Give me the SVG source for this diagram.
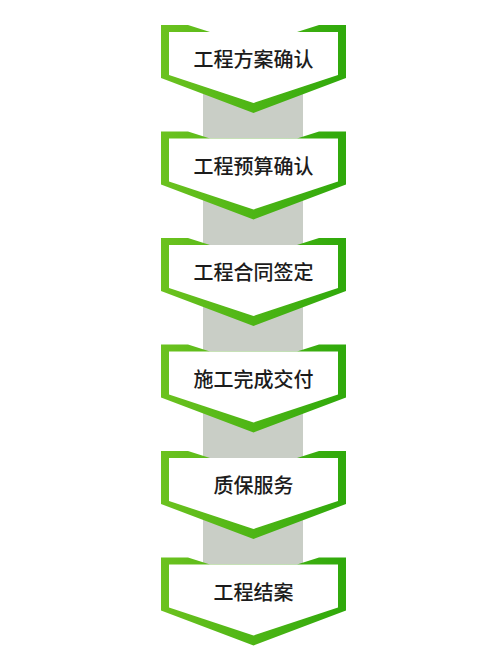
<svg xmlns="http://www.w3.org/2000/svg" xmlns:xlink="http://www.w3.org/1999/xlink" width="500" height="672" viewBox="0 0 500 672">
  <defs>
    <linearGradient id="green" gradientUnits="userSpaceOnUse" x1="161" y1="0" x2="346" y2="0">
      <stop offset="0" stop-color="#6cc21f"/>
      <stop offset="1" stop-color="#2fa90b"/>
    </linearGradient>
    <g id="chev">
      <polygon points="161,0 188,0 210,7 297,7 319,0 346,0 346,53 253.5,88 161,53" fill="url(#green)"/>
      <polygon points="169,7 338,7 338,50 253.5,78 169,50" fill="#ffffff"/>
    </g>
  </defs>
  <style>
    .conn { fill: #c9cec6; }
    .label { font-family: "Noto Sans CJK SC", "Noto Sans", sans-serif; font-size: 20px; font-weight: 500; fill: #1c1c1c; text-anchor: middle; }
  </style>
  <rect width="500" height="672" fill="#ffffff"/>
  <g id="connectors">
    <rect class="conn" x="203" y="85" width="100" height="60"/>
    <rect class="conn" x="203" y="191.5" width="100" height="60"/>
    <rect class="conn" x="203" y="298" width="100" height="60"/>
    <rect class="conn" x="203" y="404.5" width="100" height="60"/>
    <rect class="conn" x="203" y="511" width="100" height="60"/>
  </g>
  <g id="node1">
    <use xlink:href="#chev" href="#chev" transform="translate(0,25)"/>
    <text class="label" x="253.5" y="67">工程方案确认</text>
  </g>
  <g id="node2">
    <use xlink:href="#chev" href="#chev" transform="translate(0,131.5)"/>
    <text class="label" x="253.5" y="173.5">工程预算确认</text>
  </g>
  <g id="node3">
    <use xlink:href="#chev" href="#chev" transform="translate(0,238)"/>
    <text class="label" x="253.5" y="280">工程合同签定</text>
  </g>
  <g id="node4">
    <use xlink:href="#chev" href="#chev" transform="translate(0,344.5)"/>
    <text class="label" x="253.5" y="386.5">施工完成交付</text>
  </g>
  <g id="node5">
    <use xlink:href="#chev" href="#chev" transform="translate(0,451)"/>
    <text class="label" x="253.5" y="493">质保服务</text>
  </g>
  <g id="node6">
    <use xlink:href="#chev" href="#chev" transform="translate(0,557.5)"/>
    <text class="label" x="253.5" y="599.5">工程结案</text>
  </g>
</svg>
